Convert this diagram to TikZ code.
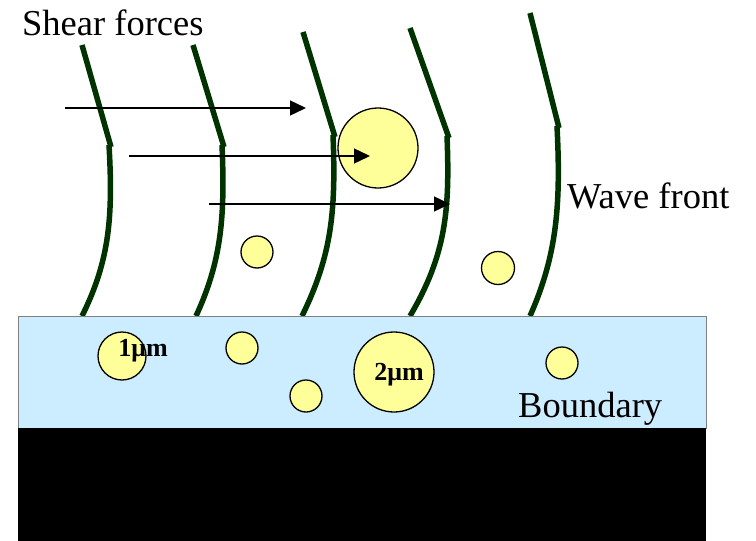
\documentclass[tikz,border=0pt]{standalone}
\usepackage{fontspec}
\setmainfont{Liberation Serif}
\usetikzlibrary{arrows.meta}
\definecolor{wave}{RGB}{0,51,0}
\definecolor{bubblefill}{RGB}{255,255,153}
\definecolor{layer}{RGB}{204,236,255}
\begin{document}
\begin{tikzpicture}[x=1pt,y=-1pt,
  wavefront/.style={draw=wave, line width=5.5pt},
  bubble/.style={circle, draw=black, line width=1.3pt, fill=bubblefill, inner sep=0pt},
  force/.style={draw=black, line width=1.4pt, -{Triangle[length=16pt,width=15pt]}},
  txt/.style={font=\fontsize{36.5}{40}\selectfont, inner sep=0pt, anchor=base west},
  sizetxt/.style={font=\bfseries\fontsize{26}{28}\selectfont, inner sep=0pt}]
\useasboundingbox (0,0) rectangle (756,541);
\fill[white] (0,0) rectangle (756,541);
% wave fronts
\draw[wavefront] (82,45) -- (111,147);
\draw[wavefront] (109,145) .. controls (113,215) and (110,260) .. (82,316);
\draw[wavefront] (193,45) -- (224,147);
\draw[wavefront] (222,145) .. controls (225,215) and (222,260) .. (196,316);
\draw[wavefront] (303,32) -- (335,137);
\draw[wavefront] (333,135) .. controls (336,210) and (332,255) .. (302,316);
\draw[wavefront] (410,28) -- (449,138);
\draw[wavefront] (447,136) .. controls (450,210) and (446,255) .. (410,316);
\draw[wavefront] (530,13) -- (559,128);
\draw[wavefront] (557,126) .. controls (561,205) and (557,255) .. (530,316);
% boundary layer and wall
\draw[draw=gray, line width=1pt, fill=layer] (18,316) rectangle (706,428);
\fill[black] (18,428) rectangle (706,541);
% particles
\node[bubble, minimum size=48pt] (p1) at (122,356) {};
\node[bubble, minimum size=32pt] (p2) at (242,348) {};
\node[bubble, minimum size=32pt] (p3) at (306,396) {};
\node[bubble, minimum size=80pt] (p4) at (394,372) {};
\node[bubble, minimum size=32pt] (p5) at (562,363) {};
\node[bubble, minimum size=80pt] (p6) at (378,148) {};
\node[bubble, minimum size=32pt] (p7) at (257,252) {};
\node[bubble, minimum size=33pt] (p8) at (498,268) {};
% shear force arrows
\coordinate (a1s) at (65,108);  \coordinate (a1e) at (306,108);
\coordinate (a2s) at (129,156); \coordinate (a2e) at (370,156);
\coordinate (a3s) at (209,204); \coordinate (a3e) at (450,204);
\draw[force] (a1s) -- (a1e);
\draw[force] (a2s) -- (a2e);
\draw[force] (a3s) -- (a3e);
% labels
\node[txt] (shear) at (22,35) {Shear forces};
\node[txt] (wave) at (567,208) {Wave front};
\node[txt] (bound) at (518,417) {Boundary};
\node[sizetxt] (t1) at (143,351) {1μm};
\node[sizetxt] (t2) at (399,375) {2μm};
\end{tikzpicture}
\end{document}
